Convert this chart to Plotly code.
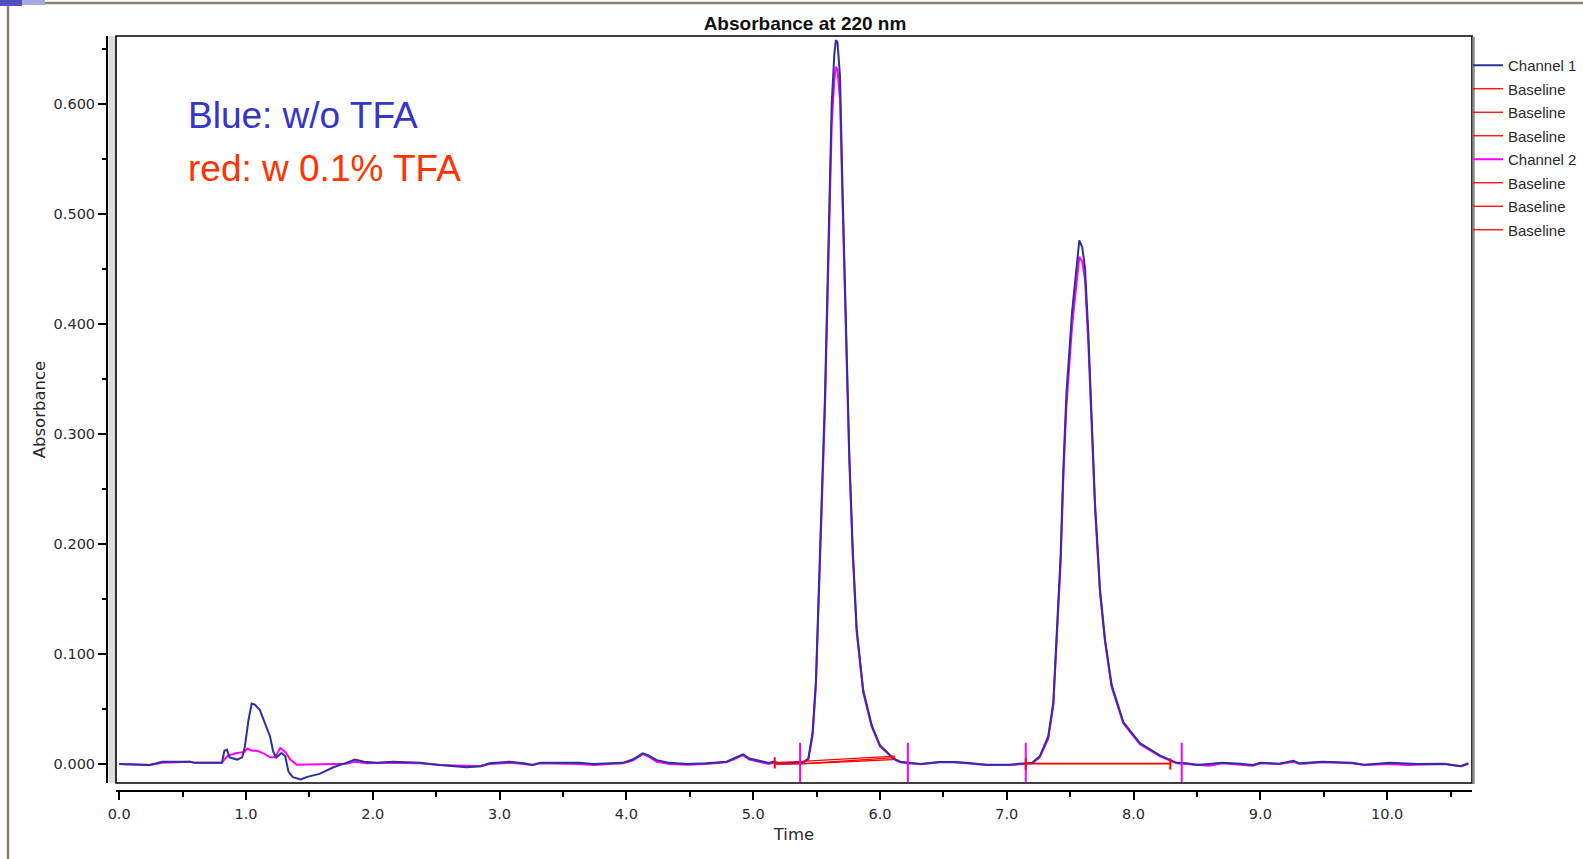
import plotly.graph_objects as go

W, H = 1583, 859

# ---------------- data ----------------
ch1_time = [0.00, 0.24, 0.34, 0.56, 0.60, 0.81, 0.83, 0.85, 0.87, 0.93, 0.97, 0.99, 1.02, 1.045, 1.07,
            1.11, 1.15, 1.19, 1.215, 1.24, 1.28, 1.31, 1.335, 1.37, 1.43, 1.49, 1.58, 1.69, 1.79, 1.86,
            1.93, 2.03, 2.16, 2.37, 2.53, 2.74, 2.85, 2.92, 3.08, 3.19, 3.26, 3.32, 3.63, 3.74, 3.97,
            4.05, 4.13, 4.17, 4.24, 4.34, 4.48, 4.63, 4.79, 4.86, 4.92, 4.97, 5.05, 5.12, 5.16, 5.21,
            5.34, 5.40, 5.435, 5.469, 5.495, 5.521, 5.540, 5.566, 5.592, 5.619, 5.64, 5.652, 5.665,
            5.685, 5.706, 5.732, 5.758, 5.785, 5.816, 5.868, 5.935, 6.00, 6.05, 6.105, 6.16, 6.22, 6.32,
            6.47, 6.58, 6.68, 6.84, 7.02, 7.13, 7.20, 7.26, 7.327, 7.367, 7.398, 7.425, 7.446, 7.47,
            7.515, 7.55, 7.572, 7.595, 7.617, 7.643, 7.669, 7.696, 7.735, 7.775, 7.827, 7.919, 8.05,
            8.21, 8.34, 8.42, 8.50, 8.70, 8.84, 8.94, 9.00, 9.15, 9.26, 9.31, 9.49, 9.72, 9.82, 10.02,
            10.24, 10.45, 10.58, 10.64]
ch1_abs = [0.000, -0.001, 0.002, 0.002, 0.001, 0.001, 0.012, 0.013, 0.006, 0.004, 0.006, 0.015, 0.040, 0.055, 0.054,
           0.049, 0.037, 0.025, 0.011, 0.006, 0.010, 0.007, -0.007, -0.012, -0.014, -0.0115, -0.009, -0.003, 0.001, 0.004,
           0.002, 0.001, 0.002, 0.001, -0.001, -0.003, -0.002, 0.0006, 0.002, 0.0006, -0.001, 0.001, 0.001, 0.000, 0.001,
           0.004, 0.0097, 0.008, 0.0035, 0.001, 0.000, 0.0006, 0.002, 0.006, 0.0088, 0.005, 0.0025, 0.001, 0.002, 0.001,
           0.001, 0.002, 0.005, 0.029, 0.076, 0.162, 0.239, 0.333, 0.479, 0.599, 0.645, 0.658, 0.656,
           0.625, 0.517, 0.389, 0.282, 0.196, 0.123, 0.067, 0.035, 0.017, 0.0115, 0.005, 0.002, 0.001, 0.000,
           0.0018, 0.0018, 0.001, -0.0006, -0.0006, 0.0006, 0.001, 0.007, 0.025, 0.056, 0.128, 0.190, 0.268, 0.336,
           0.411, 0.451, 0.476, 0.470, 0.451, 0.392, 0.314, 0.237, 0.159, 0.113, 0.072, 0.038, 0.019,
           0.0075, 0.001, 0.0006, -0.001, 0.001, 0.0003, -0.001, 0.001, 0.0003, 0.003, 0.0006, 0.002, 0.001, -0.0006, 0.001,
           0.000, 0.0003, -0.002, 0.0006]

ch2_time = [0.00, 0.24, 0.34, 0.56, 0.60, 0.81, 0.85, 0.91, 0.99, 1.01, 1.05, 1.09, 1.14, 1.19, 1.23,
            1.27, 1.31, 1.35, 1.40, 1.69, 1.79, 1.86, 1.95, 2.16, 2.37, 2.53, 2.74, 2.85, 2.92, 3.08,
            3.19, 3.26, 3.32, 3.63, 3.74, 3.97, 4.05, 4.13, 4.17, 4.24, 4.34, 4.48, 4.63, 4.79, 4.86,
            4.92, 4.97, 5.05, 5.12, 5.16, 5.21, 5.34, 5.40, 5.435, 5.469, 5.495, 5.521, 5.540, 5.566,
            5.592, 5.619, 5.64, 5.652, 5.665, 5.685, 5.706, 5.732, 5.758, 5.785, 5.816, 5.868, 5.935,
            6.00, 6.05, 6.105, 6.16, 6.22, 6.32, 6.47, 6.58, 6.68, 6.84, 7.02, 7.13, 7.20, 7.26, 7.327,
            7.367, 7.398, 7.425, 7.446, 7.47, 7.515, 7.55, 7.572, 7.595, 7.617, 7.643, 7.669, 7.696,
            7.735, 7.775, 7.827, 7.919, 8.05, 8.21, 8.34, 8.42, 8.50, 8.60, 8.70, 8.84, 8.94, 9.00,
            9.15, 9.26, 9.31, 9.49, 9.72, 9.82, 10.02, 10.15, 10.24, 10.45, 10.58, 10.64]
ch2_abs = [0.000, -0.001, 0.001, 0.002, 0.001, 0.001, 0.007, 0.0095, 0.011, 0.014, 0.012, 0.012, 0.0095, 0.006, 0.006,
           0.0145, 0.011, 0.004, -0.0006, 0.000, 0.0003, 0.002, 0.0006, 0.001, 0.0006, -0.001, -0.002, -0.002, 0.000, 0.001,
           0.000, -0.001, 0.0006, 0.000, -0.001, 0.0006, 0.003, 0.009, 0.007, 0.002, 0.000, -0.0006, 0.000, 0.0015, 0.005,
           0.008, 0.004, 0.0015, 0.000, 0.001, 0.000, 0.0006, 0.0015, 0.004, 0.026, 0.072, 0.155, 0.230, 0.322,
           0.462, 0.580, 0.622, 0.634, 0.631, 0.604, 0.505, 0.381, 0.276, 0.191, 0.120, 0.065, 0.034,
           0.016, 0.011, 0.0045, 0.0015, 0.0006, -0.0003, 0.0015, 0.0015, 0.0006, -0.001, -0.001, 0.0003, 0.0006, 0.006, 0.023,
           0.053, 0.122, 0.183, 0.259, 0.325, 0.398, 0.438, 0.461, 0.457, 0.440, 0.383, 0.307, 0.232,
           0.156, 0.111, 0.070, 0.037, 0.018, 0.007, 0.0006, 0.000, -0.001, -0.0015, 0.0006, -0.0003, -0.0015, 0.0006,
           0.000, 0.002, 0.000, 0.0015, 0.0006, -0.001, 0.000, -0.001, -0.0006, 0.000, -0.002, 0.000]

# integration baselines (start/end time, start/end absorbance)
ch1_baselines_t = [[5.17, 6.12], [5.37, 6.10], [7.15, 8.29]]
ch1_baselines_a = [[0.001, 0.0072], [0.000, 0.0040], [0.000, 0.000]]
ch2_baselines_t = [[5.37, 6.12], [5.17, 5.37], [7.15, 8.29]]
ch2_baselines_a = [[0.000, 0.0058], [0.000, 0.000], [0.0005, 0.0005]]

# peak event marks
ch2_event_t = [5.37, 6.22, 7.15, 8.38]
ch2_event_a = [0.0015, 0.0015, 0.0015, 0.0015]
ch1_event_t = [5.17, 7.15, 8.29]
ch1_event_a = [0.001, 0.000, 0.000]

x_ticks = [0.0, 1.0, 2.0, 3.0, 4.0, 5.0, 6.0, 7.0, 8.0, 9.0, 10.0]
y_ticks = [0.0, 0.1, 0.2, 0.3, 0.4, 0.5, 0.6]

# ---------------- styling ----------------
BLUE = "#30309c"
MAG = "#ff00ff"
RED = "#ff0000"
FONT = "Liberation Sans"
AXFONT = "DejaVu Sans"
TXT = "#2a2a2a"


def px(x):
    return x / W


def py(y):
    return 1 - y / H


fig = go.Figure()

# Channel 2 (magenta) underneath
fig.add_trace(go.Scatter(x=ch2_time, y=ch2_abs, mode="lines", name="Channel 2",
                         line=dict(color=MAG, width=2), legendrank=5, legendgroup="g5"))
# Channel 1 (blue) on top
fig.add_trace(go.Scatter(x=ch1_time, y=ch1_abs, mode="lines", name="Channel 1",
                         line=dict(color=BLUE, width=2), legendrank=1, legendgroup="g1"))

for i, (t, a) in enumerate(zip(ch1_baselines_t, ch1_baselines_a)):
    fig.add_trace(go.Scatter(x=t, y=a, mode="lines", name="Baseline",
                             line=dict(color=RED, width=1.3), legendrank=2 + i,
                             legendgroup="g%d" % (2 + i)))
for i, (t, a) in enumerate(zip(ch2_baselines_t, ch2_baselines_a)):
    fig.add_trace(go.Scatter(x=t, y=a, mode="lines", name="Baseline",
                             line=dict(color=RED, width=1.3), legendrank=6 + i,
                             legendgroup="g%d" % (6 + i)))

fig.add_trace(go.Scatter(x=ch2_event_t, y=ch2_event_a, mode="markers", showlegend=False,
                         marker=dict(symbol="line-ns", size=28, line=dict(color=MAG, width=2))))
fig.add_trace(go.Scatter(x=ch1_event_t, y=ch1_event_a, mode="markers", showlegend=False,
                         marker=dict(symbol="line-ns", size=8, line=dict(color=RED, width=2))))

X0, X1 = 116, 1472
Y0, Y1 = 36, 783

shapes = [
    # outer slide frame
    dict(type="line", xref="paper", yref="paper", x0=px(8), x1=px(8), y0=py(3), y1=py(H + 5),
         line=dict(color="#8a846e", width=2.5)),
    dict(type="line", xref="paper", yref="paper", x0=px(8), x1=px(W + 5), y0=py(3), y1=py(3),
         line=dict(color="#8a846e", width=2.5)),
    dict(type="rect", xref="paper", yref="paper", x0=px(0), x1=px(22), y0=py(0), y1=py(6),
         line=dict(width=0), fillcolor="#5050c0"),
    dict(type="rect", xref="paper", yref="paper", x0=px(22), x1=px(45), y0=py(0), y1=py(5),
         line=dict(width=0), fillcolor="#a8a8e0"),
    # grey band between y axis line and plot frame
    dict(type="rect", xref="paper", yref="paper", x0=px(108.5), x1=px(115), y0=py(Y1), y1=py(Y0),
         line=dict(width=0), fillcolor="#dcdcdc", layer="below"),
    # plot frame
    dict(type="rect", xref="x domain", yref="y domain", x0=0, x1=1, y0=0, y1=1,
         line=dict(color="#000000", width=1.6)),
    dict(type="line", xref="paper", yref="paper", x0=px(X1 + 1.5), x1=px(X1 + 1.5), y0=py(Y1 + 1), y1=py(Y0 + 1),
         line=dict(color="#8a8a8a", width=2.5)),
]

tickfont = dict(family=AXFONT, size=14.5, color=TXT)
axtitlefont = dict(family=AXFONT, size=16.5, color=TXT)

fig.update_layout(
    width=W, height=H, autosize=False,
    margin=dict(l=0, r=0, t=0, b=0, pad=0, autoexpand=False),
    paper_bgcolor="white", plot_bgcolor="white",
    title=dict(text="<b>Absorbance at 220 nm</b>", x=px(805), xanchor="center",
               y=py(23), yanchor="middle", font=dict(family=FONT, size=19, color="#111111")),
    xaxis=dict(domain=[px(X0), px(X1)], range=[-0.025, 10.669], anchor="free", position=py(791),
               automargin=False,
               showline=True, linecolor="black", linewidth=2, mirror=False,
               ticks="outside", ticklen=8, tickwidth=1.5, tickcolor="black",
               tickvals=x_ticks, ticktext=["%.1f" % v for v in x_ticks], ticklabelstandoff=2,
               showgrid=False, zeroline=False, tickfont=tickfont,
               minor=dict(dtick=0.5, tick0=0, ticks="outside", ticklen=5, tickwidth=1.5,
                          tickcolor="black", showgrid=False),
               title=dict(text="Time", font=axtitlefont, standoff=6)),
    yaxis=dict(domain=[py(Y1), py(Y0)], range=[-0.0173, 0.6618], anchor="free", position=px(107),
               automargin=False,
               showline=True, linecolor="black", linewidth=2,
               ticks="outside", ticklen=8, tickwidth=1.5, tickcolor="black",
               tickvals=y_ticks, ticktext=["%.3f" % v for v in y_ticks],
               showgrid=False, zeroline=False, tickfont=tickfont,
               minor=dict(dtick=0.05, tick0=0, ticks="outside", ticklen=4, tickwidth=1.5,
                          tickcolor="black", showgrid=False),
               title=dict(text="Absorbance", font=axtitlefont, standoff=3)),
    legend=dict(x=px(1468), xanchor="left", y=py(49), yanchor="top",
                font=dict(family=FONT, size=15, color=TXT), bgcolor="rgba(0,0,0,0)",
                traceorder="grouped", tracegroupgap=1, itemwidth=30),
    shapes=shapes,
    annotations=[
        dict(text="Blue: w/o TFA", x=px(186), xanchor="left", y=py(115), yanchor="middle",
             xref="paper", yref="paper", showarrow=False,
             font=dict(family=FONT, size=37, color="#3535c8")),
        dict(text="red: w 0.1% TFA", x=px(186), xanchor="left", y=py(168), yanchor="middle",
             xref="paper", yref="paper", showarrow=False,
             font=dict(family=FONT, size=37, color="#ff3300")),
    ],
)

fig.write_html("out.html", config={"displayModeBar": False},
               post_script="document.body.style.margin='0';document.body.style.overflow='hidden';")
